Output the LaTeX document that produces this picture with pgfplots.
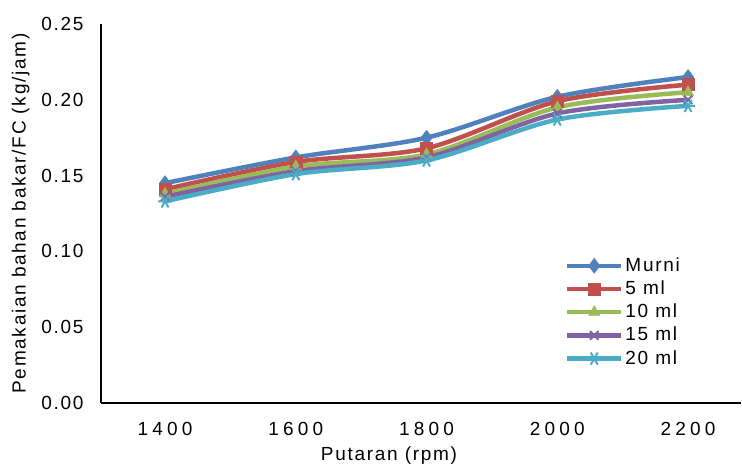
\documentclass[border=0pt]{standalone}
\usepackage{fontspec}
\setmainfont{Liberation Sans}[LetterSpace=9]
\usepackage{pgfplots}
\pgfplotsset{compat=1.18}
\definecolor{c1}{HTML}{4F81BD}
\definecolor{c2}{HTML}{C0504D}
\definecolor{c3}{HTML}{9BBB59}
\definecolor{c4}{HTML}{8064A2}
\definecolor{c5}{HTML}{4BACC6}
\newcommand\fs{\fontsize{19bp}{23bp}\selectfont}
\begin{document}
\fs
\begin{tikzpicture}
\begin{axis}[
  scale only axis, width=640bp, height=379bp,
  xmin=0.51, xmax=5.405, ymin=0, ymax=0.25,
  axis lines*=left,
  axis line style={line width=1.3bp, black},
  xtick={1,2,3,4,5}, xticklabels={1400,1600,1800,2000,2200},
  ytick={0,0.05,0.10,0.15,0.20,0.25},
  major tick length=0pt,
  /pgf/number format/assume math mode=true,
  yticklabel style={/pgf/number format/fixed, /pgf/number format/fixed zerofill, /pgf/number format/precision=2, xshift=-11bp, font=\fs},
  xticklabel style={yshift=-13bp, font=\fs\addfontfeature{LetterSpace=22}},
  label style={font=\fs},
  xlabel={Putaran (rpm)},
  xlabel style={at={(axis description cs:0.45,0)}, anchor=north, yshift=-37bp},
  ylabel={Pemakaian bahan bakar/FC (kg/jam)},
  ylabel style={yshift=-1bp},
  legend style={draw=none, fill=none, at={(0.72,0.395)}, anchor=north west,
    font=\fs, row sep=2.6bp,
    /tikz/every even column/.append style={column sep=1bp}},
  legend cell align=left,
  legend image code/.code={
    \draw[#1, mark repeat=2, mark phase=2] plot coordinates {(0bp,0bp) (27bp,0bp) (54bp,0bp)};
  },
  every axis plot/.append style={line width=4.5bp, smooth, tension=0.5},
]
\coordinate (o) at (rel axis cs:0,0);
\addplot[c1, mark=diamond*, mark size=7.5bp, mark options={solid, line width=0.5bp}] coordinates {(1,0.145) (2,0.162) (3,0.175) (4,0.202) (5,0.215)};
\addlegendentry{Murni}
\addplot[c2, mark=square*, mark size=6bp, mark options={solid, line width=0.5bp}] coordinates {(1,0.141) (2,0.159) (3,0.168) (4,0.199) (5,0.210)};
\addlegendentry{5 ml}
\addplot[c3, mark=triangle*, mark size=6.5bp, mark options={solid, line width=0.5bp}] coordinates {(1,0.138) (2,0.156) (3,0.164) (4,0.195) (5,0.205)};
\addlegendentry{10 ml}
\addplot[c4, mark=x, mark size=6bp, mark options={solid, line width=2bp}] coordinates {(1,0.136) (2,0.153) (3,0.162) (4,0.191) (5,0.200)};
\addlegendentry{15 ml}
\addplot[c5, mark=asterisk, mark size=7bp, mark options={solid, line width=2bp, rotate=90}] coordinates {(1,0.133) (2,0.151) (3,0.160) (4,0.187) (5,0.196)};
\addlegendentry{20 ml}
\end{axis}
\pgfresetboundingbox
\path (o) ++(-101bp,-64bp) rectangle ++(742bp,467bp);
\end{tikzpicture}
\end{document}
